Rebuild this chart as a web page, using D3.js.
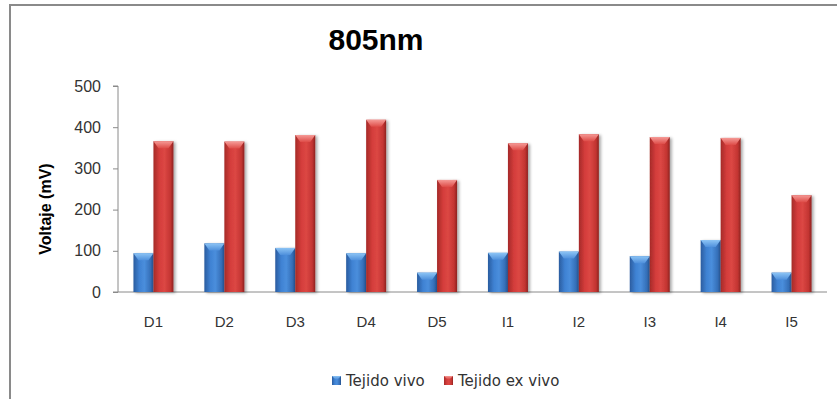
<!DOCTYPE html>
<html>
<head>
<meta charset="utf-8">
<script src="https://cdn.jsdelivr.net/npm/d3@7"></script>
<style>
  html, body { margin: 0; padding: 0; background: #fff; }
  svg { display: block; }
</style>
</head>
<body>
<svg id="chart" width="837" height="399"></svg>
<script>
// Chart data
const categories = ["D1", "D2", "D3", "D4", "D5", "I1", "I2", "I3", "I4", "I5"];
const seriesNames = ["Tejido vivo", "Tejido ex vivo"];
const vivo   = [94, 118, 107, 94, 47, 95, 98, 87, 126, 47];
const exVivo = [366, 365, 381, 418, 272, 361, 383, 376, 374, 235];
const yTicks = [0, 100, 200, 300, 400, 500];
const titleText = "805nm";
const yAxisTitle = "Voltaje (mV)";

const svg = d3.select("#chart");
const W = 837, H = 399;
const plot = { left: 118, right: 827, top: 86, bottom: 292 };

// Outer frame (left and top edges)
svg.append("path")
  .attr("d", `M10,${H} L10,5 L${W},5`)
  .attr("fill", "none").attr("stroke", "#8a8a8a").attr("stroke-width", 2);

// Gradients giving the bars their rounded 3D look
const defs = svg.append("defs");
const palettes = [
  { id: "gBlue", stops: ["#2a5c9f", "#3f82d3", "#4a8edc", "#356fb8", "#244f8a"], cap: ["#8cc4f5", "#4f90dc"] },
  { id: "gRed",  stops: ["#a52a28", "#d43d3b", "#dc4744", "#c33532", "#8e2220"], cap: ["#f59a96", "#de4c48"] }
];
palettes.forEach(p => {
  const g = defs.append("linearGradient").attr("id", p.id).attr("x1", 0).attr("x2", 1).attr("y1", 0).attr("y2", 0);
  const offs = [0, 0.3, 0.55, 0.85, 1];
  p.stops.forEach((c, i) => g.append("stop").attr("offset", offs[i]).attr("stop-color", c));
  const c = defs.append("linearGradient").attr("id", p.id + "Cap").attr("x1", 0).attr("x2", 0).attr("y1", 0).attr("y2", 1);
  c.append("stop").attr("offset", 0).attr("stop-color", p.cap[0]);
  c.append("stop").attr("offset", 1).attr("stop-color", p.cap[1]);
});
const shadow = defs.append("filter").attr("id", "shadow")
  .attr("x", "-30%").attr("y", "-10%").attr("width", "160%").attr("height", "130%");
shadow.append("feDropShadow").attr("dx", 2).attr("dy", 1).attr("stdDeviation", 1.6)
  .attr("flood-color", "#000").attr("flood-opacity", 0.35);

// Scales
const x0 = d3.scaleBand().domain(categories).range([plot.left, plot.right])
  .paddingInner(0.436).paddingOuter(0.218);
const x1 = d3.scaleBand().domain(seriesNames).range([0, x0.bandwidth()]).padding(0);
const y = d3.scaleLinear().domain([0, 500]).range([plot.bottom, plot.top]);

// Title
svg.append("text").attr("x", 376).attr("y", 50).attr("text-anchor", "middle")
  .attr("font-family", "Liberation Sans, Arial, sans-serif").attr("font-weight", "bold")
  .attr("font-size", 30).attr("fill", "#000").text(titleText);

// Y axis
const yAxis = d3.axisLeft(y).tickValues(yTicks).tickSize(5).tickPadding(12);
const gy = svg.append("g").attr("transform", `translate(${plot.left},0)`).call(yAxis);
gy.select(".domain").attr("stroke", "#8a8a8a").attr("d", `M-5,${plot.top}H0V${plot.bottom}H-5`);
gy.selectAll(".tick line").attr("stroke", "#8a8a8a");
gy.selectAll(".tick text").attr("font-family", "Liberation Sans, Arial, sans-serif")
  .attr("font-size", 16).attr("fill", "#333");

// X axis (baseline only, labels below)
const xAxis = d3.axisBottom(x0).tickSize(0).tickPadding(24);
const gx = svg.append("g").attr("transform", `translate(0,${plot.bottom})`).call(xAxis);
gx.select(".domain").attr("stroke", "#8a8a8a").attr("d", `M${plot.left},0H${plot.right}`);
gx.selectAll(".tick text").attr("font-family", "Liberation Sans, Arial, sans-serif")
  .attr("font-size", 15).attr("fill", "#333");

// Y axis title
svg.append("text").attr("transform", `translate(51,209) rotate(-90)`).attr("text-anchor", "middle")
  .attr("font-family", "Liberation Sans, Arial, sans-serif").attr("font-weight", "bold")
  .attr("font-size", 16).attr("fill", "#000").text(yAxisTitle);

// Bars
const rows = categories.map((c, i) => ({ cat: c, vals: [vivo[i], exVivo[i]] }));
const groups = svg.append("g").selectAll("g").data(rows).join("g")
  .attr("transform", d => `translate(${x0(d.cat)},0)`);

const bars = groups.selectAll("g.bar")
  .data(d => d.vals.map((v, k) => ({ name: seriesNames[k], k, v })))
  .join("g").attr("class", "bar");

bars.append("rect")
  .attr("x", d => x1(d.name)).attr("width", x1.bandwidth())
  .attr("y", d => y(d.v)).attr("height", d => y(0) - y(d.v))
  .attr("fill", d => `url(#${palettes[d.k].id})`)
  .attr("filter", "url(#shadow)");

// Bevelled top cap
bars.append("path")
  .attr("d", d => {
    const bx = x1(d.name), bw = x1.bandwidth(), ty = y(d.v), ch = 7;
    return `M${bx},${ty} H${bx + bw} L${bx + bw - 5},${ty + ch} H${bx + 5} Z`;
  })
  .attr("fill", d => `url(#${palettes[d.k].id}Cap)`);

// Legend
const legend = svg.append("g");
const legendItems = [
  { name: seriesNames[0], k: 0, x: 332 },
  { name: seriesNames[1], k: 1, x: 444 }
];
legendItems.forEach(it => {
  legend.append("rect").attr("x", it.x).attr("y", 376).attr("width", 9).attr("height", 9)
    .attr("fill", `url(#${palettes[it.k].id})`);
  legend.append("path")
    .attr("d", `M${it.x},376 H${it.x + 9} L${it.x + 6},379 H${it.x + 3} Z`)
    .attr("fill", `url(#${palettes[it.k].id}Cap)`);
  legend.append("text").attr("x", it.x + 14).attr("y", 386)
    .attr("font-family", "DejaVu Sans, sans-serif").attr("font-size", 15)
    .attr("fill", "#333").text(it.name);
});
</script>
</body>
</html>
